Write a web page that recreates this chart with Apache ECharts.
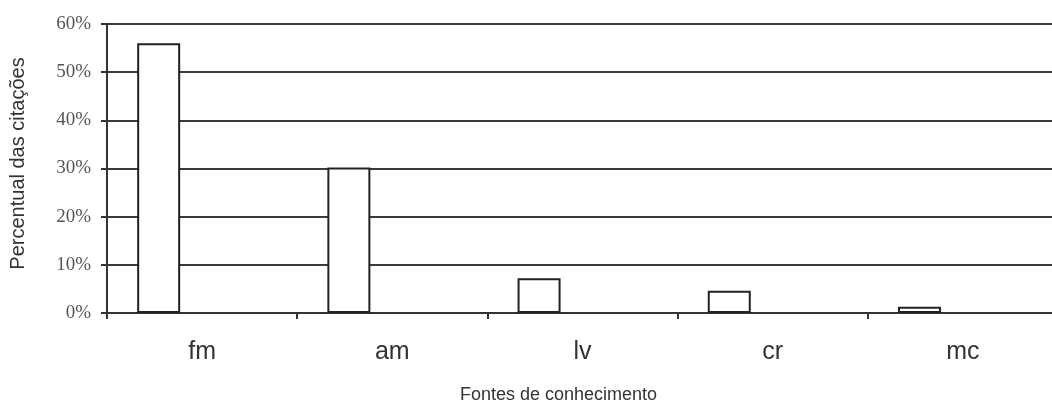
<!DOCTYPE html>
<html>
<head>
<meta charset="utf-8">
<script src="https://cdn.jsdelivr.net/npm/echarts@6/dist/echarts.min.js"></script>
<style>
html, body { margin: 0; padding: 0; background: #fff; }
#chart { width: 1052px; height: 406px; }
</style>
</head>
<body>
<div id="chart"></div>
<script>
// dados do grafico
var categorias = ["fm", "am", "lv", "cr", "mc"];
var percentuais = [56, 30.2, 7.2, 4.6, 1.3];
var vazio = [null, null, null, null, null]; // serie oculta, so para deslocar as barras

var myChart = echarts.init(document.getElementById('chart'));

var option = {
    animation: false,
    grid: {
        left: 107,
        right: -6,
        top: 24,
        bottom: 93,
        outerBoundsMode: 'none'
    },
    xAxis: {
        type: 'category',
        data: categorias,
        name: 'Fontes de conhecimento',
        nameLocation: 'middle',
        nameGap: 73,
        nameTextStyle: {
            fontFamily: 'Liberation Sans Narrow, Liberation Sans, sans-serif',
            fontSize: 18,
            color: '#333',
            padding: [0, 48, 0, 0]
        },
        axisLine: {
            lineStyle: { color: '#333', width: 2 }
        },
        axisTick: {
            show: true,
            length: 6,
            lineStyle: { color: '#333', width: 2 }
        },
        axisLabel: {
            margin: 27,
            fontFamily: 'Liberation Sans Narrow, Liberation Sans, sans-serif',
            fontSize: 25,
            color: '#333'
        },
        splitLine: { show: false }
    },
    yAxis: {
        type: 'value',
        min: 0,
        max: 60,
        interval: 10,
        name: 'Percentual das citações',
        nameLocation: 'middle',
        nameGap: 79,
        nameTextStyle: {
            fontFamily: 'Liberation Sans, sans-serif',
            fontSize: 20,
            color: '#333',
            padding: [0, 0, 0, 10]
        },
        axisLine: {
            show: true,
            lineStyle: { color: '#333', width: 2 }
        },
        axisTick: {
            show: true,
            length: 6,
            lineStyle: { color: '#333', width: 2 }
        },
        axisLabel: {
            margin: 16,
            formatter: '{value}%',
            fontFamily: 'Liberation Serif, serif',
            fontSize: 19,
            color: '#555'
        },
        //linhas de grade horizontais
        splitLine: {
            show: true,
            lineStyle: { color: '#3a3a3a', width: 2 }
        }
    },
    series: [{
        type: 'bar',
        barWidth: 43,
        barGap: '102%',
        itemStyle: {
            color: '#fff',
            borderColor: '#222',
            borderWidth: 2
        },
        data: percentuais
    }, {
        type: 'bar',
        barWidth: 43,
        itemStyle: { color: 'transparent' },
        data: vazio
    }]
};

myChart.setOption(option);
</script>
</body>
</html>
